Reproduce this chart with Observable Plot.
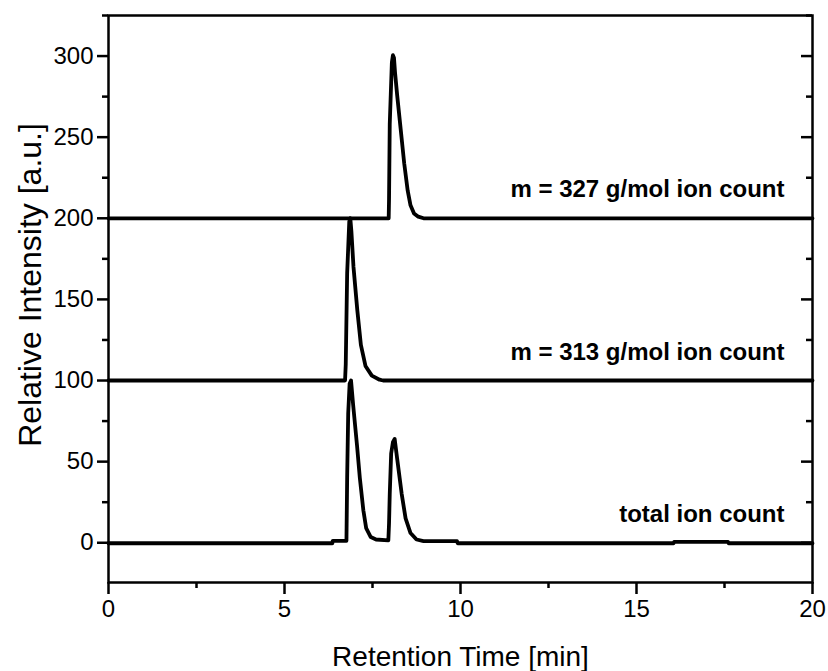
<!DOCTYPE html>
<html>
<head>
<meta charset="utf-8">
<script src="https://cdn.jsdelivr.net/npm/d3@7"></script>
<script src="https://cdn.jsdelivr.net/npm/@observablehq/plot@0.6"></script>
<style>
  html, body { margin: 0; padding: 0; background: #fff; }
  #chart svg { display: block; }
</style>
</head>
<body>
<div id="chart"></div>
<script>
// ---- data ----
const seriesNames = ["total ion count", "m = 313 g/mol ion count", "m = 327 g/mol ion count"];
const seriesOffsets = [0, 100, 200];

// total ion count (raw signal)
const tTotal = [0, 6.36, 6.37, 6.76, 6.78, 6.81, 6.85, 6.89, 6.95, 7.06, 7.14, 7.24, 7.32, 7.45, 7.6, 7.95, 7.97, 7.99, 8.03, 8.08, 8.13, 8.2, 8.33, 8.44, 8.58, 8.75, 8.95, 9.9, 9.92, 16.05, 16.07, 17.6, 17.62, 20];
const vTotal = [-0.3, -0.3, 1.2, 1.2, 40, 80, 98, 100, 85, 60, 40, 20, 9, 3.5, 2, 1.5, 12, 30, 55, 62, 64, 52, 30, 15, 6, 2, 1, 1, -0.3, -0.3, 0.5, 0.5, -0.3, -0.3];

// m = 313 g/mol ion count (raw signal)
const t313 = [0, 6.72, 6.74, 6.78, 6.84, 6.87, 6.9, 6.96, 7.07, 7.17, 7.3, 7.48, 7.7, 7.8, 20];
const v313 = [0, 0, 10, 66, 98, 100, 92, 70, 43, 22, 9, 3, 0.5, 0, 0];

// m = 327 g/mol ion count (raw signal)
const t327 = [0, 7.96, 7.97, 7.99, 8.05, 8.08, 8.11, 8.14, 8.2, 8.3, 8.4, 8.5, 8.58, 8.68, 8.8, 8.95, 20];
const v327 = [0, 0, 12, 58, 96, 100.5, 99, 90, 76, 55, 34, 17, 8, 3, 1, 0, 0];

const xMajorTicks = [0, 5, 10, 15, 20];
const xMinorTicks = [2.5, 7.5, 12.5, 17.5];
const yMajorTicks = [0, 50, 100, 150, 200, 250, 300];
const yMinorTicks = [25, 75, 125, 175, 225, 275, 325];

const xLabel = "Retention Time [min]";
const yLabel = "Relative Intensity [a.u.]";

// ---- build table ----
const rawT = [tTotal, t313, t327];
const rawV = [vTotal, v313, v327];
const rows = [];
seriesNames.forEach((name, i) => {
  rawT[i].forEach((t, j) => rows.push({series: name, t, v: rawV[i][j] + seriesOffsets[i]}));
});
const labelRows = seriesNames.map((name, i) => ({name, y: seriesOffsets[i]}));

const FONT = "'Liberation Sans', Arial, Helvetica, sans-serif";

const chart = Plot.plot({
  width: 828,
  height: 671,
  marginLeft: 108,
  marginRight: 16,
  marginTop: 15,
  marginBottom: 89,
  style: {fontFamily: FONT, background: "#fff", color: "#000"},
  x: {domain: [0, 20]},
  y: {domain: [-24.5, 325]},
  marks: [
    Plot.frame({stroke: "#000", strokeWidth: 2.5}),
    // left axis
    Plot.axisY({ticks: yMajorTicks, tickSize: 11, tickPadding: 4, fontSize: 24, strokeWidth: 2.5, label: null, tickFormat: d3.format("d")}),
    Plot.axisY({ticks: yMinorTicks, tickSize: 6, text: null, strokeWidth: 2.5, label: null}),
    // right side: inward ticks
    Plot.axisY({anchor: "left", frameAnchor: "right", ticks: yMajorTicks, tickSize: 11, text: null, strokeWidth: 2.5, label: null}),
    Plot.axisY({anchor: "left", frameAnchor: "right", ticks: yMinorTicks, tickSize: 6, text: null, strokeWidth: 2.5, label: null}),
    // bottom axis
    Plot.axisX({ticks: xMajorTicks, tickSize: 12, tickPadding: 5, fontSize: 24, strokeWidth: 2.5, label: null}),
    Plot.axisX({ticks: xMinorTicks, tickSize: 6, text: null, strokeWidth: 2.5, label: null}),
    // traces
    Plot.line(rows, {x: "t", y: "v", z: "series", stroke: "#000", strokeWidth: 3.8, strokeLinejoin: "round", curve: "linear"}),
    // series labels
    Plot.text(labelRows, {y: "y", text: "name", frameAnchor: "right", textAnchor: "end", lineAnchor: "bottom", dx: -28, dy: -21, fontSize: 24, fontWeight: "bold", fill: "#000"}),
    // axis titles
    Plot.text([yLabel], {frameAnchor: "left", textAnchor: "middle", lineAnchor: "middle", rotate: -90, dx: -78, dy: -14, fontSize: 32, fill: "#000"}),
    Plot.text([xLabel], {frameAnchor: "bottom", textAnchor: "middle", lineAnchor: "middle", dy: 75, fontSize: 28, fill: "#000"})
  ]
});
document.getElementById("chart").appendChild(chart);
</script>
</body>
</html>
